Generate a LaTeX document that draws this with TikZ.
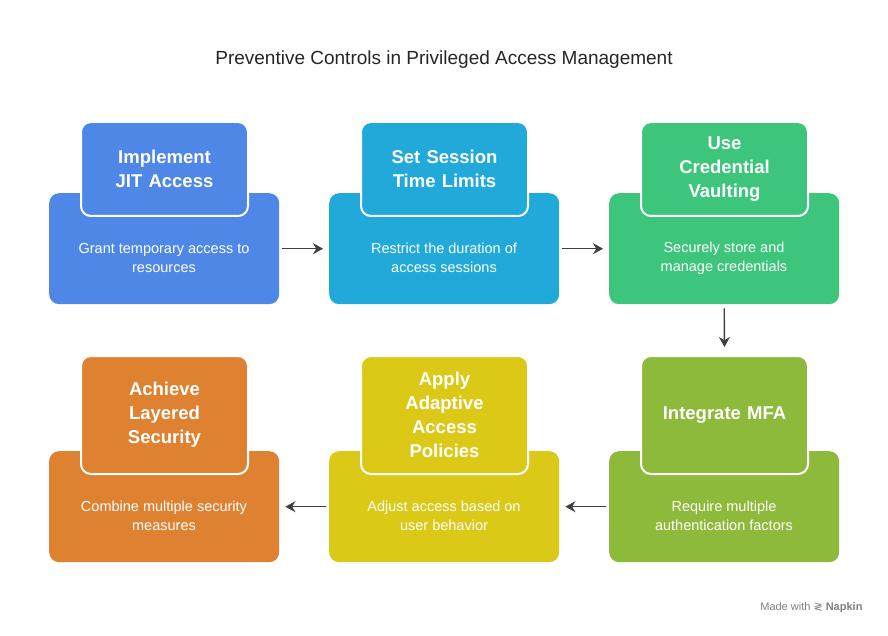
\documentclass[tikz,border=0pt]{standalone}
\usepackage{fontspec}
\setmainfont{Liberation Sans}
\newfontfamily\djv{DejaVu Sans}
\usetikzlibrary{arrows.meta}
\definecolor{cA}{HTML}{4F87E6}
\definecolor{cB}{HTML}{21A9DA}
\definecolor{cC}{HTML}{3DC57C}
\definecolor{cD}{HTML}{8DBA3A}
\definecolor{cE}{HTML}{DCC817}
\definecolor{cF}{HTML}{DE8231}
\tikzset{x=1pt,y=-1pt,
 base/.style={rounded corners=10pt,minimum width=230pt,minimum height=111pt,anchor=north west,inner sep=0pt},
 btxt/.style={align=center,text=white,font=\fontsize{14.5}{19}\selectfont},
 tab/.style={rounded corners=10pt,draw=white,line width=2pt,minimum width=167pt,anchor=north west,text width=150pt,align=center,text=white,font=\bfseries\fontsize{18.5}{24}\selectfont,inner sep=0pt},
 arr/.style={-{Stealth[length=10pt,width=11pt]},line width=1.4pt,draw=black!75}}
\begin{document}
\begin{tikzpicture}
\fill[white] (0,0) rectangle (888,636);
\useasboundingbox (0,0) rectangle (888,636);
\node[font=\fontsize{19}{23}\selectfont,text=black!85] (title) at (444,60) {Preventive Controls in Privileged Access Management};
\node[base,fill=cA] (b1) at (49,193) {};
\node[base,fill=cB] (b2) at (329,193) {};
\node[base,fill=cC] (b3) at (609,193) {};
\node[base,fill=cD] (b4) at (609,451) {};
\node[base,fill=cE] (b5) at (329,451) {};
\node[base,fill=cF] (b6) at (49,451) {};
\node[btxt] (x1) at (164,258) {Grant temporary access to\\resources};
\node[btxt] (x2) at (444,258) {Restrict the duration of\\access sessions};
\node[btxt] (x3) at (724,258) {Securely store and\\manage credentials};
\node[btxt] (x4) at (724,516) {Require multiple\\authentication factors};
\node[btxt] (x5) at (444,516) {Adjust access based on\\user behavior};
\node[btxt] (x6) at (164,516) {Combine multiple security\\measures};
\node[tab,fill=cA,minimum height=94pt] (t1) at (80,121) {Implement\\JIT Access};
\node[tab,fill=cB,minimum height=94pt] (t2) at (360,121) {Set Session\\Time Limits};
\node[tab,fill=cC,minimum height=94pt] (t3) at (640,121) {Use\\Credential\\Vaulting};
\node[tab,fill=cD,minimum height=118pt] (t4) at (640,355) {Integrate MFA};
\node[tab,fill=cE,minimum height=118pt] (t5) at (360,355) {Apply\\Adaptive\\Access\\Policies};
\node[tab,fill=cF,minimum height=118pt] (t6) at (80,355) {Achieve\\Layered\\Security};
\draw[arr] ([xshift=3pt]b1.east) -- ([xshift=-6pt]b2.west);
\draw[arr] ([xshift=3pt]b2.east) -- ([xshift=-6pt]b3.west);
\draw[arr] ([yshift=-4pt]b3.south) -- ([yshift=8pt]t4.north);
\draw[arr] ([xshift=-3pt]b4.west) -- ([xshift=6pt]b5.east);
\draw[arr] ([xshift=-3pt]b5.west) -- ([xshift=6pt]b6.east);
\node[anchor=east,font=\fontsize{11}{13}\selectfont,text=black!50] (wm) at (866,608) {Made with {\djv ≷} \textbf{Napkin}};
\end{tikzpicture}
\end{document}
